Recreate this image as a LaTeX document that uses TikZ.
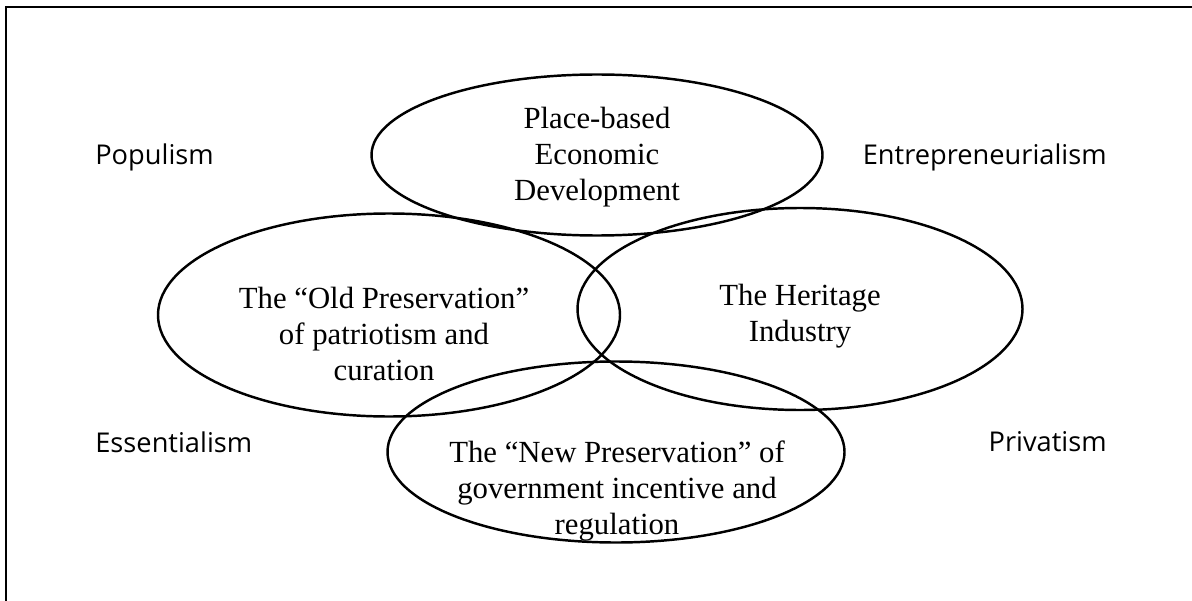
\documentclass[tikz,border=0pt]{standalone}
\usepackage{fontspec}
\setmainfont{Liberation Serif}
\newfontfamily\labelfont{Open Sans}
\usetikzlibrary{shapes.geometric, positioning}

\begin{document}
\begin{tikzpicture}[
		x=0.02cm, y=-0.02cm,
		venn/.style = {draw, ellipse, line width=1.4pt, inner sep=0pt},
		field/.style = {align=center, font=\fontsize{17.5}{20.5}\selectfont},
		ism/.style = {font=\labelfont\fontsize{15.5}{18}\selectfont, inner sep=0pt}
		]
		\useasboundingbox (0,0) rectangle (1192,601);
		% Rahmen
		\coordinate (frameR) at (1192,7);
		\coordinate (frameC) at (6,7);
		\coordinate (frameB) at (6,601);
		\draw[line width=1.2pt] (frameR) -- (frameC) -- (frameB);
		
		% Ellipsen
		\node[venn, minimum width=451*0.02cm, minimum height=161*0.02cm] (econ) at (597,155) {};
		\node[venn, minimum width=462*0.02cm, minimum height=203*0.02cm] (old) at (389,315) {};
		\node[venn, minimum width=445*0.02cm, minimum height=202*0.02cm] (heritage) at (800,309) {};
		\node[venn, minimum width=457*0.02cm, minimum height=181*0.02cm] (new) at (616,452) {};
		
		% Texte
		\node[field] (econtext) at (597,157) {Place-based\\Economic\\Development};
		\node[field] (oldtext) at (384,334) {The “Old Preservation”\\of patriotism and\\curation};
		\node[field] (heritagetext) at (800,316) {The Heritage\\Industry};
		\node[field] (newtext) at (617,491) {The “New Preservation” of\\government incentive and\\regulation};
		
		% Ecken
		\node[ism, anchor=base west] (populism) at (95,165) {Populism};
		\node[ism, anchor=base east] (entre) at (1107,165) {Entrepreneurialism};
		\node[ism, anchor=base west] (essent) at (95,452) {Essentialism};
		\node[ism, anchor=base east] (privat) at (1107,451) {Privatism};
	\end{tikzpicture}
\end{document}
